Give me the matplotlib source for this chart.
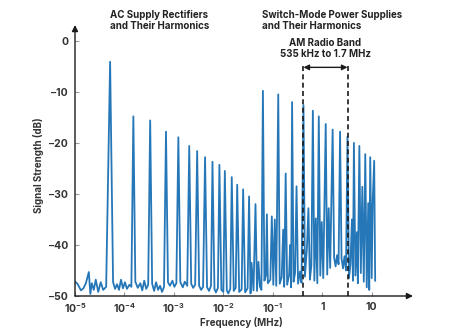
"""Spectrum of supply noise: rectifier and switch-mode harmonics"""

import numpy as np
import matplotlib
matplotlib.use('Agg')
import matplotlib.pyplot as plt

plt.rcParams['font.family'] = ['Inter', 'DejaVu Sans']
plt.rcParams['mathtext.default'] = 'regular'

# main harmonic peaks: log10(frequency / MHz), level in dB
peak_logf = [-4.29, -3.82, -3.48, -3.16, -2.91, -2.69, -2.53, -2.37, -2.22, -2.08,
             -1.97, -1.83, -1.72, -1.60, -1.48, -1.35,
             -1.20, -0.89, -0.61, -0.38, -0.19, -0.07, 0.07, 0.21, 0.36, 0.51,
             0.64, 0.75, 0.87, 0.97, 1.05]
peak_db = [-4.1, -14.8, -15.6, -17.8, -18.9, -20.6, -21.6, -22.8, -23.7, -24.3,
           -25.5, -26.7, -28.2, -29.1, -30.5, -32.0,
           -9.8, -10.5, -12.0, -12.6, -13.7, -14.8, -16.3, -17.4, -17.8, -18.8,
           -20.0, -20.6, -22.2, -22.8, -23.5]

# noise floor and small spurs between the peaks
floor_logf = [-5.00, -4.95, -4.88, -4.83, -4.78, -4.72, -4.69, -4.66, -4.62, -4.58,
              -4.53, -4.48, -4.43, -4.37,
              -4.23, -4.19, -4.15, -4.11, -4.07, -4.03, -3.99, -3.95, -3.90, -3.86,
              -3.78, -3.73, -3.68, -3.64, -3.60, -3.56, -3.52,
              -3.44, -3.40, -3.36, -3.32, -3.28, -3.24, -3.20,
              -3.12, -3.08, -3.03, -2.99, -2.95,
              -2.87, -2.82, -2.78, -2.73,
              -2.65, -2.61, -2.57,
              -2.49, -2.45, -2.41,
              -2.33, -2.29, -2.25,
              -2.18, -2.15, -2.11,
              -2.04, -2.00,
              -1.93, -1.90, -1.86,
              -1.79, -1.75,
              -1.68, -1.63,
              -1.56, -1.51,
              -1.45, -1.43, -1.39,
              -1.32, -1.29, -1.26, -1.23,
              -1.17, -1.14, -1.12, -1.10, -1.05, -1.02, -0.99, -0.96, -0.93,
              -0.86, -0.82, -0.79, -0.77, -0.74, -0.71, -0.67, -0.65, -0.63,
              -0.58, -0.55, -0.52, -0.49, -0.45, -0.42,
              -0.35, -0.31, -0.28, -0.25, -0.22,
              -0.16, -0.13, -0.10,
              -0.04, -0.01, 0.02,
              0.10, 0.13, 0.16,
              0.24, 0.27, 0.30, 0.33,
              0.39, 0.42, 0.45, 0.48,
              0.54, 0.57, 0.60, 0.62,
              0.67, 0.70, 0.72,
              0.78, 0.81, 0.84,
              0.90, 0.93, 0.95,
              1.00, 1.02,
              1.07]
floor_db = [-47.2, -47.6, -48.9, -48.5, -47.5, -45.3, -49.6, -47.5, -48.8, -46.8,
            -49.2, -47.3, -48.8, -48.2,
            -47.3, -48.6, -47.7, -48.8, -46.8, -48.5, -47.3, -48.6, -47.8, -48.2,
            -47.2, -48.4, -47.5, -48.9, -47.0, -48.6, -47.8,
            -47.6, -49.0, -47.3, -48.8, -48.0, -49.2, -48.2,
            -47.3, -48.0, -47.0, -48.2, -47.5,
            -47.3, -48.3, -47.2, -48.0,
            -47.6, -48.4, -47.8,
            -48.0, -48.8, -48.2,
            -48.3, -49.0, -48.0,
            -48.6, -49.3, -48.4,
            -48.8, -49.2,
            -48.9, -49.5, -48.6,
            -49.0, -48.4,
            -49.2, -48.7,
            -49.3, -48.5,
            -49.5, -43.5, -48.9,
            -49.0, -43.3, -48.2, -48.8,
            -47.0, -46.0, -34.0, -47.5, -46.8, -34.4, -47.8, -35.0, -48.0,
            -47.6, -46.3, -37.0, -48.2, -26.0, -47.8, -45.8, -40.0, -48.3,
            -47.2, -45.5, -28.5, -47.6, -45.2, -47.4,
            -46.2, -40.5, -32.8, -46.8, -44.0,
            -47.0, -34.8, -47.5,
            -46.0, -35.5, -46.5,
            -45.8, -32.8, -44.5,
            -42.5, -44.2, -42.0, -43.8,
            -42.6, -44.6, -42.2, -45.0,
            -46.5, -43.8, -35.0, -47.0,
            -46.0, -37.5, -47.5,
            -45.5, -28.6, -47.2,
            -48.3, -31.8, -48.8,
            -46.5, -31.5,
            -47.0]

# AM band edges as drawn (MHz)
am_band = [0.417, 3.24]

xticks = [1e-5, 1e-4, 1e-3, 1e-2, 1e-1, 1, 10]
xtick_labels = ['$10^{-5}$', '$10^{-4}$', '$10^{-3}$', '$10^{-2}$', '$10^{-1}$', '1', '10']
yticks = [0, -10, -20, -30, -40, -50]

logf = np.concatenate([peak_logf, floor_logf])
level = np.concatenate([peak_db, floor_db])
order = np.argsort(logf)
freq = 10 ** logf[order]
level = level[order]

W, H = 467, 336
fig = plt.figure(figsize=(W / 100, H / 100), dpi=100)
ax = fig.add_axes([75 / W, 1 - 296 / H, (413 - 75) / W, (296 - 25) / H])

ax.plot(freq, level, color='#2677b8', lw=1.3)

ax.set_xscale('log')
ax.set_xlim(1e-5, 10 ** 1.835)
ax.set_ylim(-50, 3.1)
ax.set_xticks(xticks)
ax.set_xticklabels(xtick_labels)
ax.xaxis.set_minor_locator(matplotlib.ticker.NullLocator())
ax.set_yticks(yticks)
ax.set_yticklabels([str(v).replace('-', '\u2212') for v in yticks])
ax.tick_params(direction='in', length=3, width=0.8, color='#9a9a9a',
               labelsize=7.5, labelcolor='#333333')
ax.tick_params(axis='x', pad=4)
ax.tick_params(axis='y', pad=5)
for lbl in ax.get_xticklabels() + ax.get_yticklabels():
    lbl.set_fontweight('bold')

for side in ['top', 'right', 'left', 'bottom']:
    ax.spines[side].set_visible(False)
arrow = dict(arrowstyle='-|>', color='#1a1a1a', lw=1.0, mutation_scale=9,
             shrinkA=0, shrinkB=0)
ax.annotate('', xy=(1, 0), xytext=(0, 0), xycoords='axes fraction', arrowprops=arrow)
ax.annotate('', xy=(0, 1), xytext=(0, 0), xycoords='axes fraction', arrowprops=arrow)

# AM radio band
for f in am_band:
    ax.plot([f, f], [-50, -4.5], color='#1a1a1a', lw=1.2, ls=(0, (3, 2)), zorder=3)
ax.annotate('', xy=(am_band[0], -5.2), xytext=(am_band[1], -5.2),
            arrowprops=dict(arrowstyle='<|-|>', color='#1a1a1a', lw=1.0,
                            mutation_scale=8, shrinkA=0, shrinkB=0))
fig.text(325 / W, 1 - 38 / H, 'AM Radio Band\n535 kHz to 1.7 MHz', ha='center', va='top',
         fontsize=7, fontweight='bold', color='#222222', linespacing=1.1)

fig.text(110 / W, 1 - 10 / H, 'AC Supply Rectifiers\nand Their Harmonics', ha='left',
         va='top', fontsize=7, fontweight='bold', color='#222222', linespacing=1.1)
fig.text(262 / W, 1 - 10 / H, 'Switch-Mode Power Supplies\nand Their Harmonics', ha='left',
         va='top', fontsize=7, fontweight='bold', color='#222222', linespacing=1.1)

fig.text(241 / W, 1 - 322 / H, 'Frequency (MHz)', ha='center', va='center',
         fontsize=7, fontweight='bold', color='#333333')
fig.text(39 / W, 1 - 165 / H, 'Signal Strength (dB)', ha='center', va='center',
         rotation=90, fontsize=7, fontweight='bold', color='#333333')

fig.savefig('out.png', dpi=100, facecolor='white')
